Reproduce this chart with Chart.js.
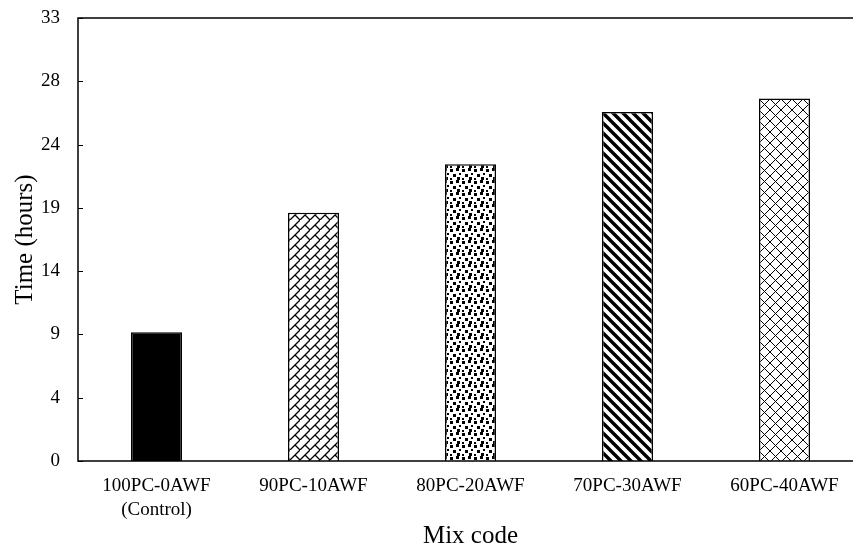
<!DOCTYPE html>
<html>
<head>
<meta charset="utf-8">
<title>Setting time by mix code</title>
<script src="https://cdn.jsdelivr.net/npm/chart.js@4.4.1/dist/chart.umd.min.js"></script>
<style>
  html, body { margin: 0; padding: 0; background: #fff; overflow: hidden; width: 853px; height: 549px; }
  canvas { display: block; }
</style>
</head>
<body>
<canvas id="chart" width="870" height="549" style="width:870px;height:549px"></canvas>
<script>
// Mix codes along the x axis
const mixCodes = [['100PC-0AWF', '(Control)'], '90PC-10AWF', '80PC-20AWF', '70PC-30AWF', '60PC-40AWF'];
// Time in hours for each mix
const timeHours = [9.6, 18.5, 22.1, 26.0, 27.0];
// Labels printed at the seven equal steps of the y axis
const yTickLabels = ['0', '4', '9', '14', '19', '24', '28', '33'];
const yMax = 33;

const SERIF = "'Liberation Serif', 'Times New Roman', serif";

function makeTile(size, draw) {
  const c = document.createElement('canvas');
  c.width = size; c.height = size;
  const g = c.getContext('2d');
  g.fillStyle = '#fff';
  g.fillRect(0, 0, size, size);
  g.strokeStyle = '#000';
  g.fillStyle = '#000';
  draw(g, size);
  return document.createElement('canvas').getContext('2d').createPattern(c, 'repeat');
}

// diagonal brick
const brick = makeTile(10, (g, s) => {
  g.lineWidth = 1.3;
  g.beginPath();
  g.moveTo(-1, s + 1); g.lineTo(s + 1, -1);
  g.moveTo(5, 5); g.lineTo(10, 10);
  g.moveTo(0, 0); g.lineTo(0.1, 0.1);
  g.stroke();
});

// confetti dots
const confetti = makeTile(12, (g) => {
  const sq = [[0, 0, 3], [6, 1, 3], [3, 5, 2], [9, 6, 3], [1, 9, 3], [6, 10, 2]];
  sq.forEach(([x, y, w]) => g.fillRect(x, y, w, w));
});

// wide downward diagonal
const wideDiag = makeTile(10, (g, s) => {
  g.lineWidth = 3.4;
  g.beginPath();
  g.moveTo(-s, 0); g.lineTo(s * 2, s * 3);
  g.moveTo(-s, -s); g.lineTo(s * 2, s * 2);
  g.moveTo(0, -s); g.lineTo(s * 2, s);
  g.stroke();
});

// outlined diamond lattice
const diamonds = makeTile(11, (g, s) => {
  g.lineWidth = 1;
  g.beginPath();
  g.moveTo(0, 0); g.lineTo(s, s);
  g.moveTo(0, s); g.lineTo(s, 0);
  g.stroke();
});

const barFills = ['#000000', brick, confetti, wideDiag, diamonds];

// Plot frame and inward y ticks
const framePlugin = {
  id: 'frame',
  afterDatasetsDraw(chart) {
    const { ctx, chartArea: a, scales: { y } } = chart;
    ctx.save();
    ctx.strokeStyle = '#000';
    ctx.lineWidth = 1.5;
    ctx.strokeRect(a.left, a.top, a.right - a.left, a.bottom - a.top);
    ctx.lineWidth = 1;
    y.ticks.forEach(t => {
      const py = Math.round(y.getPixelForValue(t.value)) + 0.5;
      ctx.beginPath();
      ctx.moveTo(a.left, py);
      ctx.lineTo(a.left + 5, py);
      ctx.stroke();
    });
    ctx.restore();
  }
};

new Chart(document.getElementById('chart'), {
  type: 'bar',
  data: {
    labels: mixCodes,
    datasets: [{
      data: timeHours,
      backgroundColor: barFills,
      borderColor: '#000',
      borderWidth: 1.5,
      borderSkipped: 'bottom',
      barPercentage: 0.325,
      categoryPercentage: 1
    }]
  },
  options: {
    responsive: false,
    animation: false,
    devicePixelRatio: 1,
    layout: { padding: { top: 18, right: 7, left: 0, bottom: 0 } },
    plugins: { legend: { display: false }, tooltip: { enabled: false } },
    scales: {
      x: {
        grid: { display: false, drawTicks: false },
        border: { display: false },
        ticks: {
          color: '#000',
          padding: 13,
          maxRotation: 0,
          autoSkip: false,
          font: { family: SERIF, size: 19, lineHeight: 1.25 }
        },
        title: {
          display: true,
          text: 'Mix code',
          color: '#000',
          font: { family: SERIF, size: 25 },
          padding: { top: 0, bottom: -2 }
        },
        afterFit(scale) { scale.height = 88; scale.paddingLeft = 0; scale.paddingRight = 0; }
      },
      y: {
        min: 0,
        max: yMax,
        grid: { display: false, drawTicks: false },
        border: { display: false },
        afterBuildTicks(scale) {
          const step = yMax / (yTickLabels.length - 1);
          scale.ticks = yTickLabels.map((_, i) => ({ value: i * step }));
        },
        ticks: {
          color: '#000',
          padding: 18,
          font: { family: SERIF, size: 19 },
          callback: (v, i) => yTickLabels[i]
        },
        title: {
          display: true,
          text: 'Time (hours)',
          color: '#000',
          font: { family: SERIF, size: 25 },
          padding: { top: 10, bottom: 0 }
        },
        afterFit(scale) { scale.width = 78; scale.paddingTop = 0; scale.paddingBottom = 0; }
      }
    }
  },
  plugins: [framePlugin]
});
</script>
</body>
</html>
